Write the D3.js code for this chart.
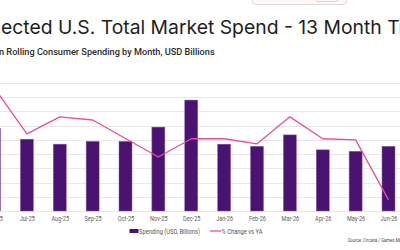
<!DOCTYPE html>
<html>
<head>
<meta charset="utf-8">
<script src="https://cdn.jsdelivr.net/npm/d3@7"></script>
<style>
  html, body { margin: 0; padding: 0; background: #fff; overflow: hidden; }
  svg { display: block; }
</style>
</head>
<body>
<div id="chart"></div>
<script>
// Data
var months = ["Jun-25", "Jul-25", "Aug-25", "Sep-25", "Oct-25", "Nov-25", "Dec-25",
              "Jan-26", "Feb-26", "Mar-26", "Apr-26", "May-26", "Jun-26"];
var spending = [5.8, 5.05, 4.7, 4.9, 4.9, 5.9, 7.8, 4.7, 4.55, 5.35, 4.3, 4.2, 4.55];
var pctChange = [18.5, 2.1, 8.1, 7.0, 0.5, -6.0, 0.4, 0.4, -1.4, 8.1, 0.4, 0.0, -21.1];
var gridTicks = [0, 1, 2, 3, 4, 5, 6, 7, 8, 9];

var drawChart = function(){

    // sizes & style
    const width = 400;
    const height = 250;
    var barColor = "#4a1372";
    var lineColor = "#e5509a";
    var gridColor = "#e8e8e8";
    var labelFont = "Roboto";

    var svg = d3.select("#chart").append("svg")
        .attr("width", width)
        .attr("height", height);

    // squeeze a text to look like a condensed face
    var condense = function(sel, k) {
        sel.each(function() {
            var w = this.getComputedTextLength();
            d3.select(this)
                .attr("textLength", w * k)
                .attr("lengthAdjust", "spacingAndGlyphs");
        });
    }

    // scales (chart is cut off on both sides, so range runs past the edges)
    var x = d3.scalePoint()
        .domain(months)
        .range([-6, 388.5]);
    var y = d3.scaleLinear()
        .domain([0, 9])
        .range([211, 83]);
    var y2 = d3.scaleLinear()
        .domain([-25, 20])
        .range([211, 83]);
    const barWidth = 13;

    // little box peeking in at the top
    svg.append("rect")
        .attr("x", 252).attr("y", -10)
        .attr("width", 95).attr("height", 14.5)
        .attr("rx", 4)
        .attr("fill", "#fff7f5")
        .attr("stroke", "#dcdcdc");
    svg.append("rect")
        .attr("x", 316).attr("y", -6)
        .attr("width", 22).attr("height", 7.5)
        .attr("rx", 3)
        .attr("fill", "none")
        .attr("stroke", "#f6c9b0");

    // title, fitted so the visible part lines up with the reference
    var titlePre = "Proj", titleMid = "ected U.S. Total Market Spend - 13 Month ", titleRest = "Trend";
    var title = svg.append("text")
        .attr("font-family", "Inter")
        .attr("font-size", 18)
        .attr("fill", "#1e1e1e")
        .text(titleMid);
    var fs = 18 * 381 / title.node().getComputedTextLength();
    title.attr("font-size", fs).text(titlePre);
    var wPre = title.node().getComputedTextLength();
    title.attr("x", 1 - wPre).attr("y", 34).text(titlePre + titleMid + titleRest);

    var subPre = "Based o", subMid = "n Rolling Consumer Spending by Month, USD Billions";
    var sub = svg.append("text")
        .attr("font-family", labelFont)
        .attr("font-weight", 500)
        .attr("font-size", 10)
        .attr("fill", "#2a2a2a")
        .text(subMid);
    var fs2 = 10 * 216 / sub.node().getComputedTextLength();
    sub.attr("font-size", fs2).text(subPre);
    var wSub = sub.node().getComputedTextLength();
    sub.attr("x", -1 - wSub).attr("y", 55).text(subPre + subMid);

    // gridlines
    svg.append("g").selectAll("line")
        .data(gridTicks)
        .join("line")
        .attr("x1", 0).attr("x2", width)
        .attr("y1", d => Math.round(y(d)) + 0.5)
        .attr("y2", d => Math.round(y(d)) + 0.5)
        .attr("stroke", gridColor)
        .attr("stroke-width", 1);

    // bars
    svg.append("g").selectAll("rect")
        .data(spending)
        .join("rect")
        .attr("x", (d, i) => x(months[i]) - barWidth/2)
        .attr("y", d => y(d))
        .attr("width", barWidth)
        .attr("height", d => y(0) - y(d))
        .attr("fill", barColor)
        .attr("stroke", "#8d64ad")
        .attr("stroke-width", 0.5);

    // % change line
    var line = d3.line()
        .x((d, i) => x(months[i]))
        .y(d => y2(d));
    svg.append("path")
        .datum(pctChange)
        .attr("d", line)
        .attr("fill", "none")
        .attr("stroke", lineColor)
        .attr("stroke-width", 1.3)
        .attr("stroke-linejoin", "round");

    // x axis labels
    var xAxis = d3.axisBottom(x).tickSize(0).tickPadding(5);
    var gx = svg.append("g")
        .attr("transform", "translate(0," + y(0) + ")")
        .call(xAxis);
    gx.select(".domain").remove();
    gx.selectAll("text")
        .attr("font-family", labelFont)
        .attr("font-size", 7.5)
        .attr("fill", "#606060")
        .call(condense, 0.74);

    // legend
    var legend = svg.append("g")
        .attr("font-family", labelFont)
        .attr("font-size", 7.2)
        .attr("fill", "#555");
    legend.append("rect")
        .attr("x", 129.5).attr("y", 229)
        .attr("width", 9).attr("height", 4)
        .attr("fill", barColor);
    legend.append("text")
        .attr("x", 139).attr("y", 233.5)
        .text("Spending (USD, Billions)")
        .attr("textLength", 61)
        .attr("lengthAdjust", "spacingAndGlyphs");
    legend.append("line")
        .attr("x1", 210).attr("x2", 221)
        .attr("y1", 231).attr("y2", 231)
        .attr("stroke", lineColor)
        .attr("stroke-width", 1.3);
    legend.append("text")
        .attr("x", 221.5).attr("y", 233.5)
        .text("% Change vs YA")
        .attr("textLength", 41)
        .attr("lengthAdjust", "spacingAndGlyphs");

    // source
    svg.append("text")
        .attr("x", 348).attr("y", 242)
        .attr("font-family", labelFont)
        .attr("font-style", "italic")
        .attr("font-size", 6)
        .attr("fill", "#444")
        .text("Source: Circana / Games Market Dynamics")
        .call(condense, 0.72);
}

window.addEventListener("load", drawChart)
</script>
</body>
</html>
